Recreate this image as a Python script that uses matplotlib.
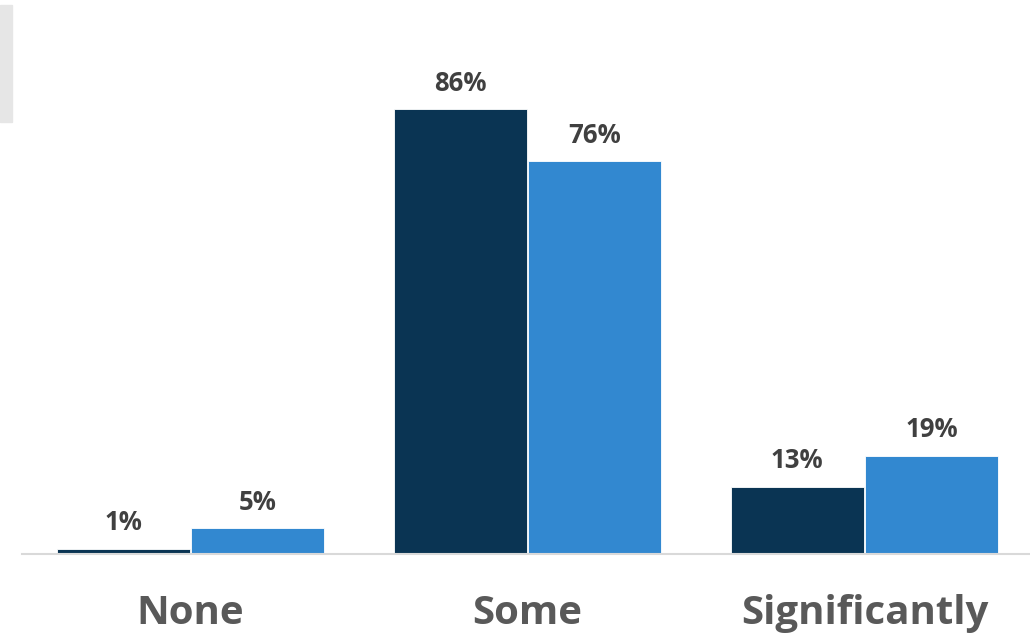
import numpy as np
import matplotlib.pyplot as plt
from matplotlib.patches import Rectangle

categories = ['None', 'Some', 'Significantly']
series_a = [1, 86, 13]
series_b = [5, 76, 19]

dark = '#0a3453'
light = '#3288d0'

fig = plt.figure(figsize=(10.3, 6.36), dpi=100)
ax = fig.add_axes([22 / 1030, 82 / 636, 1011 / 1030, 517 / 636])

x = np.arange(len(categories))
w = 0.395
ax.bar(x - 0.2, series_a, width=w, color=dark, edgecolor='white', linewidth=0.6)
ax.bar(x + 0.2, series_b, width=w, color=light, edgecolor='white', linewidth=0.6)

for xi, v in zip(x - 0.2, series_a):
    ax.annotate(f'{v}%', (xi, v), xytext=(0, 9), textcoords='offset points',
                ha='center', va='bottom', fontsize=18.5, fontweight='bold',
                color='#404040', family='Open Sans')
for xi, v in zip(x + 0.2, series_b):
    ax.annotate(f'{v}%', (xi, v), xytext=(0, 9), textcoords='offset points',
                ha='center', va='bottom', fontsize=18.5, fontweight='bold',
                color='#404040', family='Open Sans')

ax.set_xlim(-0.5, 2.5)
ax.set_ylim(0, 100)
ax.set_xticks(x)
ax.set_xticklabels(categories, fontsize=29, fontweight='bold', color='#595959',
                   family='Open Sans')
ax.tick_params(axis='x', length=0, pad=29)
ax.set_yticks([])
for s in ['top', 'right', 'left']:
    ax.spines[s].set_visible(False)
ax.spines['bottom'].set_color('#d9d9d9')
ax.spines['bottom'].set_linewidth(1.5)

# gray strip at top left
fig.patches.append(Rectangle((0, 1 - 122 / 636), 12 / 1030, 117 / 636,
                             transform=fig.transFigure, color='#e6e6e6', zorder=0))

fig.savefig('out.png', dpi=100)
